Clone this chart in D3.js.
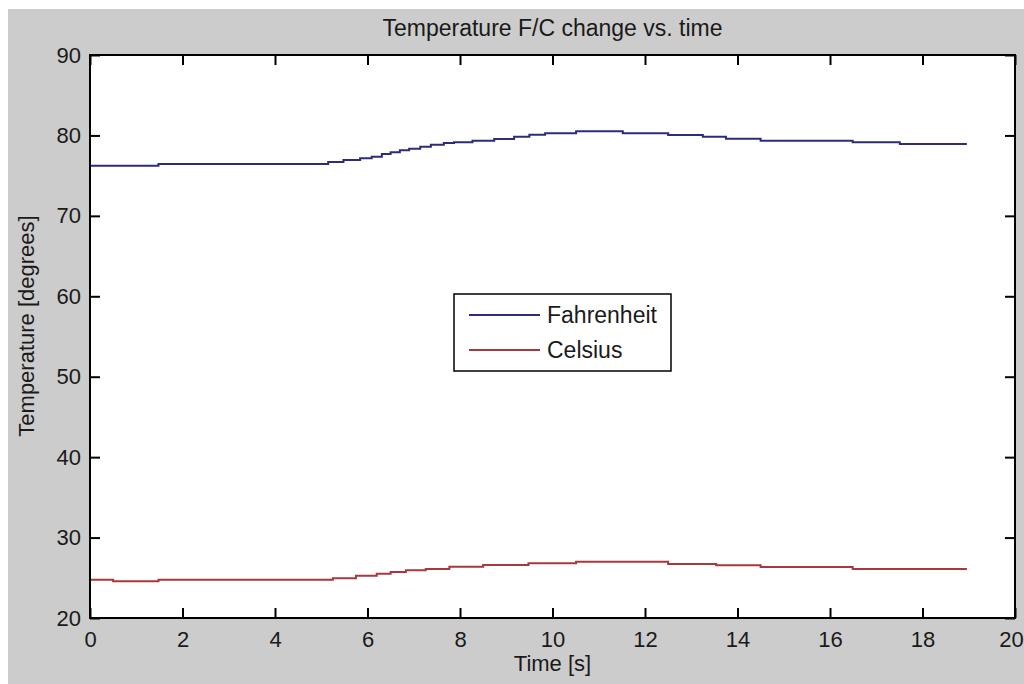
<!DOCTYPE html>
<html>
<head>
<meta charset="utf-8">
<script src="https://cdn.jsdelivr.net/npm/d3@7"></script>
<style>
  body { margin: 0; background: #fff; }
  text { font-family: "Liberation Sans", Arial, sans-serif; fill: #1a1a1a; }
</style>
</head>
<body>
<div id="chart"></div>
<script>
// step readings, value holds until the next time
var fahrenheitTimes = [0, 1.48, 5.15, 5.48, 5.84, 6.09, 6.31, 6.50, 6.70, 6.90, 7.14, 7.37, 7.65, 7.87, 8.27, 8.74, 9.17, 9.50, 9.84, 10.51, 11.52, 12.50, 13.25, 13.75, 14.50, 16.49, 17.51, 18.96];
var fahrenheitValues = [76.24, 76.45, 76.70, 76.94, 77.15, 77.35, 77.69, 77.90, 78.15, 78.35, 78.60, 78.85, 79.06, 79.14, 79.34, 79.56, 79.84, 80.09, 80.26, 80.51, 80.26, 80.05, 79.84, 79.59, 79.34, 79.14, 78.93, 78.93];

var celsiusTimes = [0, 0.50, 1.48, 5.25, 5.75, 6.20, 6.50, 6.83, 7.26, 7.77, 8.50, 9.48, 10.51, 12.50, 13.54, 14.50, 16.49, 18.96];
var celsiusValues = [24.76, 24.56, 24.76, 24.94, 25.26, 25.51, 25.72, 25.93, 26.09, 26.38, 26.59, 26.80, 27.00, 26.71, 26.55, 26.34, 26.09, 26.09];

var xTicks = [0, 2, 4, 6, 8, 10, 12, 14, 16, 18, 20];
var yTicks = [20, 30, 40, 50, 60, 70, 80, 90];
var seriesNames = ["Fahrenheit", "Celsius"];
var seriesColors = ["#2c2c7a", "#a8383c"];

var width = 1024, height = 684;
var plot = {left: 90, right: 1015, top: 55, bottom: 618};

var svg = d3.select("#chart").append("svg")
	.attr("width", width)
	.attr("height", height);

svg.append("rect")
	.attr("x", 8).attr("y", 9)
	.attr("width", width - 8).attr("height", height - 9)
	.attr("fill", "#cccccc");

var x = d3.scaleLinear().domain([0, 20]).range([plot.left, plot.right]);
var y = d3.scaleLinear().domain([20, 90]).range([plot.bottom, plot.top]);

svg.append("rect")
	.attr("x", plot.left).attr("y", plot.top)
	.attr("width", plot.right - plot.left).attr("height", plot.bottom - plot.top)
	.attr("fill", "#fff");

var series = [
	d3.zip(fahrenheitTimes, fahrenheitValues),
	d3.zip(celsiusTimes, celsiusValues)
];

var line = d3.line()
	.x(function(d) { return x(d[0]); })
	.y(function(d) { return y(d[1]); })
	.curve(d3.curveStepAfter);

svg.append("g")
	.selectAll("path")
	.data(series)
	.enter()
	.append("path")
		.attr("d", line)
		.attr("fill", "none")
		.attr("stroke", function(d, i) { return seriesColors[i]; })
		.attr("stroke-width", 2);

// axes, ticks pointing inward like matlab
function styleAxis(g) {
	g.select(".domain").remove();
	g.selectAll(".tick line").attr("stroke", "#000").attr("stroke-width", 2);
	g.selectAll(".tick text").style("font-size", "22px").attr("fill", "#1a1a1a")
		.style("font-family", "'Liberation Sans', Arial, sans-serif");
}

var xAxisG = svg.append("g")
	.attr("transform", "translate(0," + plot.bottom + ")")
	.call(d3.axisBottom(x).tickValues(xTicks).tickSize(-10).tickSizeOuter(0).tickPadding(13))
	.call(styleAxis);
// last label sits on the window edge, nudge it in a little
xAxisG.selectAll(".tick text").filter(function(d) { return d === 20; }).attr("dx", -4);

svg.append("g")
	.attr("transform", "translate(0," + plot.top + ")")
	.call(d3.axisTop(x).tickValues(xTicks).tickSize(-10).tickSizeOuter(0).tickFormat(""))
	.call(styleAxis);
svg.append("g")
	.attr("transform", "translate(" + plot.left + ",0)")
	.call(d3.axisLeft(y).tickValues(yTicks).tickSize(-10).tickSizeOuter(0).tickPadding(9))
	.call(styleAxis);
svg.append("g")
	.attr("transform", "translate(" + plot.right + ",0)")
	.call(d3.axisRight(y).tickValues(yTicks).tickSize(-10).tickSizeOuter(0).tickFormat(""))
	.call(styleAxis);

svg.append("rect")
	.attr("x", plot.left).attr("y", plot.top)
	.attr("width", plot.right - plot.left).attr("height", plot.bottom - plot.top)
	.attr("fill", "none")
	.attr("stroke", "#000")
	.attr("stroke-width", 2);

svg.append("text")
	.attr("x", (plot.left + plot.right) / 2)
	.attr("y", 36)
	.attr("text-anchor", "middle")
	.style("font-size", "23px")
	.text("Temperature F/C change vs. time");

svg.append("text")
	.attr("x", (plot.left + plot.right) / 2)
	.attr("y", 671)
	.attr("text-anchor", "middle")
	.style("font-size", "22px")
	.text("Time [s]");

svg.append("text")
	.attr("transform", "translate(34," + 326 + ") rotate(-90)")
	.attr("text-anchor", "middle")
	.style("font-size", "22px")
	.text("Temperature [degrees]");

// legend
var legend = svg.append("g").attr("transform", "translate(454,294)");
legend.append("rect")
	.attr("width", 217).attr("height", 77)
	.attr("fill", "#fff")
	.attr("stroke", "#000")
	.attr("stroke-width", 1.5);
var items = legend.selectAll("g.item")
	.data(seriesNames)
	.enter()
	.append("g")
		.attr("class", "item")
		.attr("transform", function(d, i) { return "translate(0," + (21 + i * 35) + ")"; });
items.append("line")
	.attr("x1", 15).attr("x2", 86)
	.attr("stroke", function(d, i) { return seriesColors[i]; })
	.attr("stroke-width", 2);
items.append("text")
	.attr("x", 93)
	.attr("dy", "0.36em")
	.style("font-size", "23px")
	.text(function(d) { return d; });
</script>
</body>
</html>
